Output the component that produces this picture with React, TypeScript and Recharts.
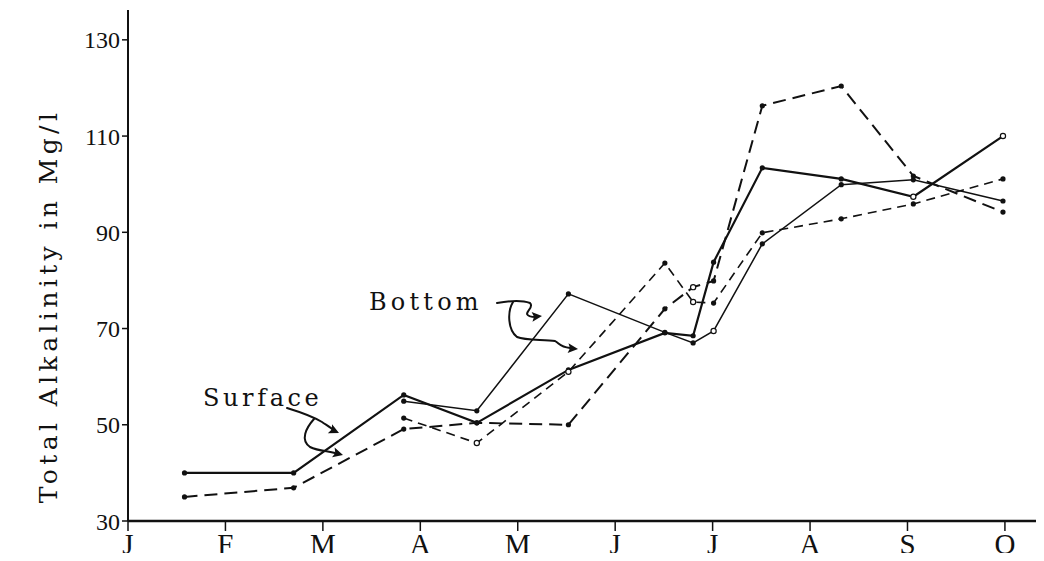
import React from "react";
import { LineChart, Line, XAxis, YAxis } from "recharts";

// month letters along the bottom, J = 0 ... O = 9
const monthLabels = ["J", "F", "M", "A", "M", "J", "J", "A", "S", "O"];
const monthTicks = [0, 1, 2, 3, 4, 5, 6, 7, 8, 9];
const alkTicks = [30, 50, 70, 90, 110, 130];

// sampling dates, in months from the start of January
const sampleMonth = [0.58, 1.7, 2.83, 3.58, 4.52, 5.51, 5.8, 6.01, 6.51, 7.32, 8.06, 8.98];

// total alkalinity, mg/l
const surfaceSolid = [40, 40, 56.2, 50.4, 61.4, 69.1, 68.5, 83.8, 103.4, 101.1, 97.4, 110];
const surfaceDashed = [35, 36.9, 49.1, 50.4, 50.0, 74.1, 78.6, 79.9, 116.3, 120.4, 101.7, 94.2];
const bottomSolid = [null, null, 54.9, 52.9, 77.2, 69.2, 67.0, 69.5, 87.6, 99.9, 100.9, 96.5];
const bottomDashed = [null, null, 51.4, 46.2, 61.0, 83.6, 75.5, 75.3, 89.9, 92.8, 95.9, 101.1];

const rows = sampleMonth.map((t, i) => ({
  t,
  surfaceSolid: surfaceSolid[i],
  surfaceDashed: surfaceDashed[i],
  bottomSolid: bottomSolid[i],
  bottomDashed: bottomDashed[i],
}));

const FONT = "'DejaVu Serif', serif";
const TICK_FONT = "'Liberation Serif', serif";

const series = [
  { key: "surfaceSolid", width: 2.2, dash: undefined, hollow: [10, 11] },
  { key: "bottomSolid", width: 1.5, dash: undefined, hollow: [7] },
  { key: "bottomDashed", width: 1.6, dash: "9 6", hollow: [3, 4, 6] },
  { key: "surfaceDashed", width: 2, dash: "13 7", hollow: [6] },
];

const makeDot = (hollow: number[]) => (props: any) => {
  const { cx, cy, index, value } = props;
  if (cx == null || cy == null || value == null) return <g key={`d-${index}`} />;
  const open = hollow.includes(index);
  return (
    <circle
      key={`d-${index}`}
      cx={cx}
      cy={cy}
      r={2.6}
      fill={open ? "#fff" : "#111"}
      stroke="#111"
      strokeWidth={open ? 1.2 : 0}
    />
  );
};

function Arrowhead({ x, y, angle }: { x: number; y: number; angle: number }) {
  return (
    <polygon
      points="0,0 -10,-5 -8,0 -10,5"
      fill="#111"
      transform={`translate(${x},${y}) rotate(${angle})`}
    />
  );
}

function Notes() {
  return (
    <svg
      width={1044}
      height={561}
      style={{ position: "absolute", left: 0, top: 0, pointerEvents: "none" }}
    >
      <text
        transform="rotate(-90)"
        x={-306}
        y={57}
        textAnchor="middle"
        fontFamily={FONT}
        fontSize={25}
        letterSpacing={4.4}
        fill="#111"
      >
        Total Alkalinity in Mg/l
      </text>

      <text x={203} y={406} fontFamily={FONT} fontSize={24} letterSpacing={3.6} fill="#111">
        Surface
      </text>
      <g fill="none" stroke="#111" strokeWidth={2} strokeLinecap="round">
        <path d="M287 408 C300 412, 312 416, 322 422 C328 426, 332 428, 334 431" />
        <path d="M314 419 C306 428, 300 440, 310 447 C318 451, 328 451, 335 453" />
      </g>
      <Arrowhead x={339} y={433} angle={25} />
      <Arrowhead x={343} y={455} angle={15} />

      <text x={369} y={310} fontFamily={FONT} fontSize={24} letterSpacing={4.2} fill="#111">
        Bottom
      </text>
      <g fill="none" stroke="#111" strokeWidth={2} strokeLinecap="round">
        <path d="M497 303 C508 301, 522 300, 530 303 C534 307, 527 310, 527 314 C528 317, 532 317, 536 317" />
        <path d="M513 302 C507 312, 508 330, 517 337 C526 341, 545 339, 555 341 C560 344, 560 347, 570 348" />
      </g>
      <Arrowhead x={542} y={316} angle={-5} />
      <Arrowhead x={578} y={349} angle={5} />
    </svg>
  );
}

export default function App() {
  return (
    <div style={{ position: "relative", width: 1044, height: 561, margin: -8, background: "#fff" }}>
      <LineChart
        width={1044}
        height={561}
        data={rows}
        margin={{ top: 10, right: 4, bottom: 0, left: 68 }}
      >
        <XAxis
          type="number"
          dataKey="t"
          domain={[0, 9.36]}
          ticks={monthTicks}
          tickFormatter={(v: number) => monthLabels[v]}
          allowDataOverflow
          height={40}
          stroke="#111"
          strokeWidth={2.5}
          tickSize={10}
          tickMargin={2}
          tick={{ fill: "#111", fontFamily: TICK_FONT, fontSize: 29 }}
          tickLine={{ stroke: "#111", strokeWidth: 1.5 }}
        />
        <YAxis
          type="number"
          domain={[30, 136.2]}
          ticks={alkTicks}
          allowDataOverflow
          width={60}
          stroke="#111"
          strokeWidth={2}
          tickSize={6}
          tickMargin={2}
          tick={{ fill: "#111", fontFamily: TICK_FONT, fontSize: 24 }}
          tickLine={{ stroke: "#111", strokeWidth: 1.5 }}
        />
        {series.map((s) => (
          <Line
            key={s.key}
            dataKey={s.key}
            type="linear"
            stroke="#111"
            strokeWidth={s.width}
            strokeDasharray={s.dash}
            dot={makeDot(s.hollow)}
            activeDot={false}
            isAnimationActive={false}
          />
        ))}
      </LineChart>
      <Notes />
    </div>
  );
}
